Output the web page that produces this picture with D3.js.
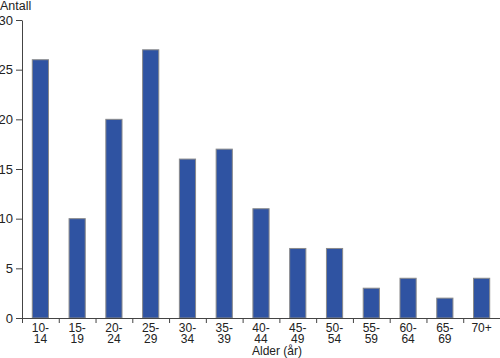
<!DOCTYPE html>
<html>
<head>
<meta charset="utf-8">
<script src="https://cdn.jsdelivr.net/npm/d3@7"></script>
<style>
  body { margin: 0; background: #fff; }
  svg { display: block; font-family: "Liberation Sans", Arial, sans-serif; }
</style>
</head>
<body>
<svg id="drawing_region"></svg>
<script>
// age groups (two-line tick labels) and counts
const groups_top = ["10-", "15-", "20-", "25-", "30-", "35-", "40-", "45-", "50-", "55-", "60-", "65-", "70+"];
const groups_bottom = ["14", "19", "24", "29", "34", "39", "44", "49", "54", "59", "64", "69", ""];
const counts = [26, 10, 20, 27, 16, 17, 11, 7, 7, 3, 4, 2, 4];
const y_ticks = [0, 5, 10, 15, 20, 25, 30];

const data = counts.map((c, i) => ({ key: i, top: groups_top[i], bottom: groups_bottom[i], value: c }));

const width = 500, height = 358;
const margin = { top: 20, right: 0, bottom: 40, left: 22 };
const inner_width = width - margin.left - margin.right;
const inner_height = height - margin.top - margin.bottom;

const svg = d3.select('#drawing_region')
    .attr('width', width)
    .attr('height', height);

const chart = svg.append('g')
    .attr('transform', `translate(${margin.left}, ${margin.top})`);

const xscale = d3.scaleBand()
    .domain(data.map(d => d.key))
    .range([0, inner_width]);

const yscale = d3.scaleLinear()
    .domain([0, 30])
    .range([inner_height, 0]);

const bar_w = xscale.bandwidth() * 0.44;

chart.selectAll('rect')
    .data(data)
    .enter()
    .append('rect')
    .attr('x', d => xscale(d.key) + (xscale.bandwidth() - bar_w) / 2)
    .attr('y', d => yscale(d.value))
    .attr('width', bar_w)
    .attr('height', d => inner_height - yscale(d.value))
    .attr('fill', '#2f53a2')
    .attr('stroke', '#8a8a8a')
    .attr('stroke-width', 1);

// y axis
const yaxis_group = chart.append('g')
    .call(d3.axisLeft(yscale).tickValues(y_ticks).tickSize(6).tickSizeOuter(0));
yaxis_group.select('.domain').attr('stroke', '#444');
yaxis_group.selectAll('.tick line').attr('stroke', '#444');
yaxis_group.selectAll('.tick text')
    .attr('font-size', 13)
    .attr('font-family', '"Liberation Sans", Arial, sans-serif')
    .attr('fill', '#222')
    .attr('x', -9);

// x axis: ticks on band boundaries
const bounds = d3.range(data.length + 1).map(i => i * xscale.step());
const xb = d3.scaleLinear().domain([0, inner_width]).range([0, inner_width]);
const xaxis_group = chart.append('g')
    .attr('transform', `translate(0, ${inner_height})`)
    .call(d3.axisBottom(xb).tickValues(bounds).tickSize(5).tickSizeOuter(0).tickFormat(''));
xaxis_group.select('.domain').attr('stroke', '#444');
xaxis_group.selectAll('.tick line').attr('stroke', '#444');

const labels = chart.append('g')
    .attr('transform', `translate(0, ${inner_height})`)
    .selectAll('text')
    .data(data)
    .enter()
    .append('text')
    .attr('x', d => xscale(d.key) + xscale.bandwidth() / 2)
    .attr('y', 13.5)
    .attr('text-anchor', 'middle')
    .attr('font-size', 12)
    .attr('fill', '#222');
labels.append('tspan')
    .attr('x', d => xscale(d.key) + xscale.bandwidth() / 2)
    .text(d => d.top);
labels.append('tspan')
    .attr('x', d => xscale(d.key) + xscale.bandwidth() / 2)
    .attr('dy', 11.5)
    .text(d => d.bottom);

svg.append('text')
    .attr('x', 252)
    .attr('y', 355)
    .attr('font-size', 12)
    .attr('fill', '#222')
    .text('Alder (år)');

svg.append('text')
    .attr('x', 0)
    .attr('y', 10)
    .attr('font-size', 12.5)
    .attr('fill', '#222')
    .text('Antall');
</script>
</body>
</html>
